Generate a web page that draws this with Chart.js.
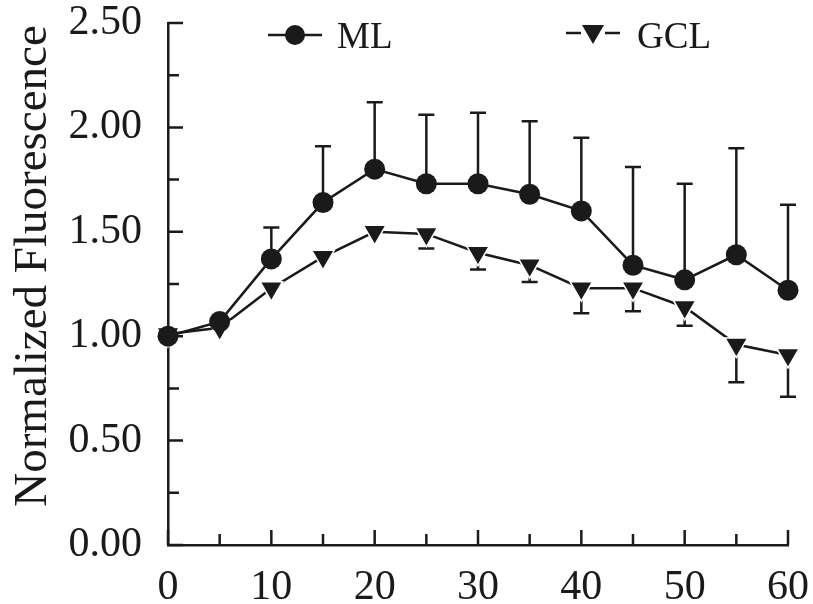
<!DOCTYPE html>
<html>
<head>
<meta charset="utf-8">
<script src="https://cdn.jsdelivr.net/npm/chart.js@4.4.1/dist/chart.umd.min.js"></script>
<style>
  html, body { margin: 0; padding: 0; background: #fff; }
  #wrap { width: 813px; height: 604px; }
</style>
</head>
<body>
<div id="wrap"><canvas id="chart" width="813" height="604"></canvas></div>
<script>
// ── Data ─────────────────────────────────────────────────────────────────────
const TIMES     = [0, 5, 10, 15, 20, 25, 30, 35, 40, 45, 50, 55, 60];
const ML_MEAN   = [1.00, 1.07, 1.37, 1.64, 1.80, 1.73, 1.73, 1.68, 1.60, 1.34, 1.27, 1.39, 1.22];
const ML_UPPER  = [null, null, 1.52, 1.91, 2.12, 2.06, 2.07, 2.03, 1.95, 1.81, 1.73, 1.90, 1.63];
const GCL_MEAN  = [1.01, 1.04, 1.23, 1.38, 1.50, 1.49, 1.40, 1.34, 1.23, 1.23, 1.14, 0.96, 0.91];
const GCL_LOWER = [null, null, null, null, null, 1.42, 1.32, 1.26, 1.11, 1.12, 1.05, 0.78, 0.71];

const Y_MIN = 0, Y_MAX = 2.5, Y_STEP = 0.25;   // labels every 0.5
const X_MIN = 0, X_MAX = 60,  X_STEP = 5;      // labels every 10
const Y_TITLE = 'Normalized Fluorescence';

const INK   = '#1a1a1a';
const SERIF = '"Liberation Serif", "Times New Roman", serif';

const toPoints = ys => TIMES.map((t, i) => ({ x: t, y: ys[i] }));
const near = (v, step) => Math.abs(v / step - Math.round(v / step)) < 1e-6;

// ── Error bars (ML upward only, GCL downward only) ───────────────────────────
const errorBars = {
  id: 'errorBars',
  beforeDatasetsDraw(chart) {
    const { ctx, scales: { x, y } } = chart;
    ctx.save();
    ctx.strokeStyle = INK;
    ctx.lineWidth = 2.5;
    const draw = (means, ends) => {
      TIMES.forEach((t, i) => {
        if (ends[i] == null) return;
        const px = x.getPixelForValue(t);
        const y0 = y.getPixelForValue(means[i]);
        const y1 = y.getPixelForValue(ends[i]);
        ctx.beginPath();
        ctx.moveTo(px, y0); ctx.lineTo(px, y1);
        ctx.moveTo(px - 8, y1); ctx.lineTo(px + 8, y1);
        ctx.stroke();
      });
    };
    draw(ML_MEAN, ML_UPPER);
    draw(GCL_MEAN, GCL_LOWER);
    ctx.restore();
  },
};

// ── Inward ticks on both axes + rotated y title ──────────────────────────────
const axisDecor = {
  id: 'axisDecor',
  afterDraw(chart) {
    const { ctx, chartArea: a, scales: { x, y } } = chart;
    ctx.save();
    ctx.strokeStyle = INK;
    ctx.lineWidth = 2.5;
    ctx.beginPath();
    y.ticks.forEach(t => {
      const py = y.getPixelForValue(t.value);
      const len = near(t.value, 0.5) ? 15 : 11;
      ctx.moveTo(a.left, py); ctx.lineTo(a.left + len, py);
    });
    x.ticks.forEach(t => {
      const px = x.getPixelForValue(t.value);
      const len = near(t.value, 10) ? 15 : 11;
      ctx.moveTo(px, a.bottom); ctx.lineTo(px, a.bottom - len);
    });
    ctx.stroke();

    ctx.fillStyle = INK;
    ctx.font = `47px ${SERIF}`;
    ctx.textAlign = 'center';
    ctx.textBaseline = 'alphabetic';
    ctx.translate(46, 266);
    ctx.rotate(-Math.PI / 2);
    ctx.fillText(Y_TITLE, 0, 0);
    ctx.restore();
  },
};

// ── Legend drawn inside the plot, two items spread across the top ────────────
const insideLegend = {
  id: 'insideLegend',
  afterDraw(chart) {
    const { ctx } = chart;
    ctx.save();
    ctx.strokeStyle = INK;
    ctx.fillStyle = INK;
    ctx.lineWidth = 2.5;
    ctx.font = `37px ${SERIF}`;
    ctx.textBaseline = 'middle';

    // ML: line – circle – line
    ctx.beginPath();
    ctx.moveTo(268, 35); ctx.lineTo(322, 35);
    ctx.stroke();
    ctx.beginPath();
    ctx.arc(295, 35, 10, 0, Math.PI * 2);
    ctx.fill();
    ctx.fillText('ML', 337, 38);

    // GCL: line – down triangle – line
    ctx.beginPath();
    ctx.moveTo(566, 33); ctx.lineTo(581, 33);
    ctx.moveTo(605, 33); ctx.lineTo(620, 33);
    ctx.stroke();
    ctx.beginPath();
    ctx.moveTo(582, 25); ctx.lineTo(604, 25); ctx.lineTo(593, 44);
    ctx.closePath();
    ctx.fill();
    ctx.fillText('GCL', 637, 38);
    ctx.restore();
  },
};

new Chart(document.getElementById('chart').getContext('2d'), {
  type: 'line',
  data: {
    datasets: [
      {
        label: 'ML',
        data: toPoints(ML_MEAN),
        borderColor: INK,
        backgroundColor: INK,
        borderWidth: 2.5,
        pointStyle: 'circle',
        pointRadius: 10.5,
        pointBorderWidth: 0,
        pointBackgroundColor: INK,
        tension: 0,
        clip: false,
      },
      {
        label: 'GCL',
        data: toPoints(GCL_MEAN),
        borderColor: INK,
        backgroundColor: INK,
        borderWidth: 2.5,
        pointStyle: 'triangle',
        rotation: 180,
        pointRadius: 13,
        pointBorderWidth: 1.5,
        pointBorderColor: '#fff',
        pointBackgroundColor: INK,
        tension: 0,
        clip: false,
      },
    ],
  },
  options: {
    responsive: false,
    animation: false,
    events: [],
    layout: { padding: { left: 0, right: 25, top: 23, bottom: 0 } },
    plugins: { legend: { display: false }, tooltip: { enabled: false } },
    scales: {
      x: {
        type: 'linear',
        min: X_MIN, max: X_MAX,
        grid: { display: false },
        border: { display: true, color: INK, width: 2.5 },
        ticks: {
          stepSize: X_STEP,
          autoSkip: false,
          maxRotation: 0,
          padding: 10,
          color: INK,
          font: { family: SERIF, size: 42 },
          callback: v => (near(v, 10) ? String(v) : ''),
        },
        afterFit: s => {
          s.height = 604 - 545;
          s.paddingLeft = 0; s.paddingRight = 0;
        },
      },
      y: {
        min: Y_MIN, max: Y_MAX,
        grid: { display: false },
        border: { display: true, color: INK, width: 2.5 },
        ticks: {
          stepSize: Y_STEP,
          autoSkip: false,
          padding: 18,
          color: INK,
          font: { family: SERIF, size: 42 },
          callback: v => (near(v, 0.5) ? v.toFixed(2) : ''),
        },
        afterFit: s => {
          s.width = 168;
          s.paddingTop = 0; s.paddingBottom = 0;
        },
      },
    },
  },
  plugins: [errorBars, axisDecor, insideLegend],
});
</script>
</body>
</html>
